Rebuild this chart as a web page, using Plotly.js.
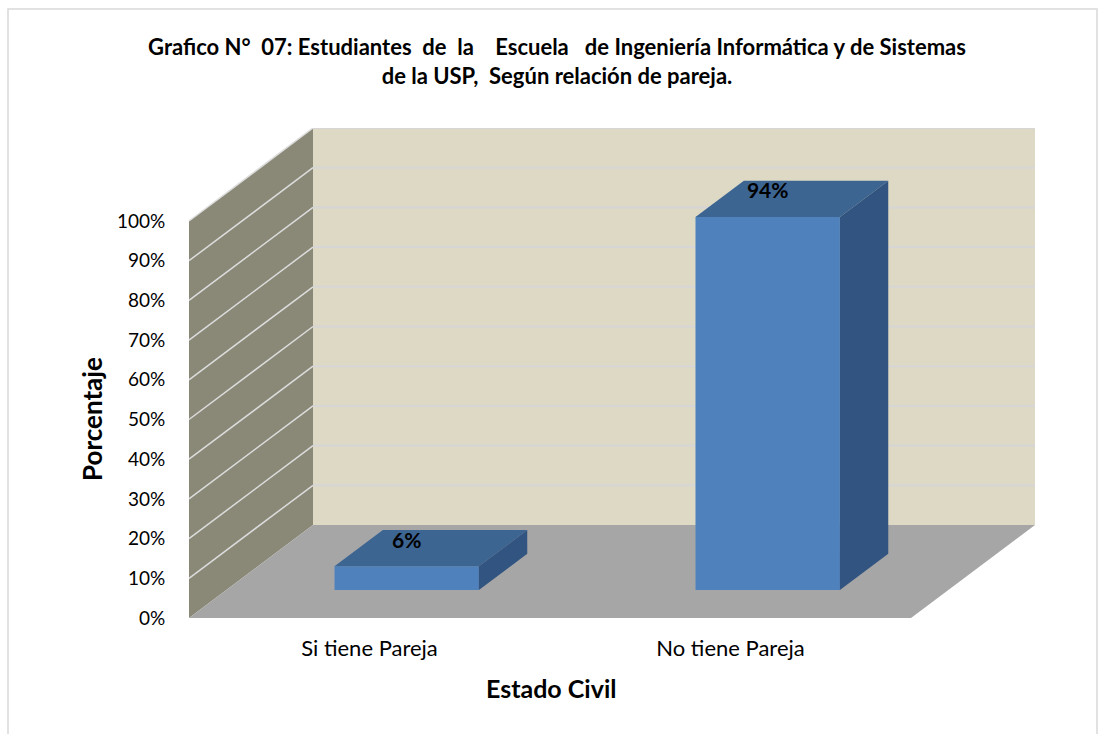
<!DOCTYPE html>
<html>
<head>
<meta charset="utf-8">
<script src="https://cdn.plot.ly/plotly-3.0.1.min.js"></script>
<style>html,body{margin:0;padding:0;background:#fff;}#chart{width:1102px;height:734px;}</style>
</head>
<body>
<div id="chart"></div>
<script>
// ---- data ----
const categories = ['Si tiene Pareja', 'No tiene Pareja'];
const values = [6, 94];
const tickVals = [0, 10, 20, 30, 40, 50, 60, 70, 80, 90, 100];
const tickText = tickVals.map(v => v + '%');
const titleLines = ['Grafico N°\u00a0 07: Estudiantes\u00a0 de\u00a0 la\u00a0\u00a0\u00a0 Escuela\u00a0\u00a0 de Ingeniería Informática y de Sistemas',
                    'de la USP,\u00a0 Según relación de pareja.'];
const xTitle = 'Estado Civil';
const yTitle = 'Porcentaje';

// ---- geometry (styling) ----
const FONT = 'Lato, "Noto Sans", sans-serif';
const L = 189, R = 1035, T = 128, B = 618, W = 1102, H = 734;
const plotW = R - L, plotH = B - T;
const pxPerPct = 3.97;
const depthDX = 124, depthDY = 93;
const frontW = plotW - depthDX;
const catPx = frontW / categories.length;
const barFront = 0.3, barDepth = 0.39;
const offX = barFront * depthDX, offY = barFront * depthDY;
const bdx = barDepth * depthDX / catPx, bdy = barDepth * depthDY / pxPerPct;
const halfW = 0.2;
const backShift = depthDY / pxPerPct;
const sideFrac = depthDX / plotW;

const x2r0 = -(catPx * 0.5 + offX) / catPx;
const traces = [];
// invisible trace to hold front axes
traces.push({x: categories.map((c, i) => i), y: categories.map(() => 0), type: 'scatter', mode: 'markers',
  marker: {opacity: 0}, hoverinfo: 'skip', showlegend: false, xaxis: 'x', yaxis: 'y'});
// front faces
traces.push({x: categories.map((c, i) => i), y: values, type: 'bar', width: 0.4,
  marker: {color: '#4F81BD', line: {width: 0}}, hoverinfo: 'skip', showlegend: false, xaxis: 'x2', yaxis: 'y2'});
values.forEach((v, i) => {
  traces.push({x: [i - halfW, i + halfW, i + halfW + bdx, i - halfW + bdx, i - halfW],
    y: [v, v, v + bdy, v + bdy, v], type: 'scatter', mode: 'lines', fill: 'toself',
    fillcolor: '#3D6592', line: {width: 0, color: '#3D6592'}, hoverinfo: 'skip', showlegend: false, xaxis: 'x2', yaxis: 'y2'});
  traces.push({x: [i + halfW, i + halfW + bdx, i + halfW + bdx, i + halfW, i + halfW],
    y: [0, bdy, v + bdy, v, 0], type: 'scatter', mode: 'lines', fill: 'toself',
    fillcolor: '#325480', line: {width: 0, color: '#325480'}, hoverinfo: 'skip', showlegend: false, xaxis: 'x2', yaxis: 'y2'});
});
// data labels
traces.push({x: categories.map((c, i) => i), y: values.map(v => v + 6), text: values.map(v => v + '%'),
  type: 'scatter', mode: 'text', textposition: 'middle center',
  textfont: {family: FONT, size: 21, color: '#000', weight: 'bold'},
  hoverinfo: 'skip', showlegend: false, xaxis: 'x2', yaxis: 'y2'});

const shapes = [];
// walls and floor
shapes.push({type: 'path', xref: 'paper', yref: 'y', layer: 'below',
  path: `M 0 0 L ${sideFrac} ${backShift} L ${sideFrac} ${100 + backShift} L 0 100 Z`,
  fillcolor: '#8A8978', line: {width: 0}});
shapes.push({type: 'rect', xref: 'paper', yref: 'y', layer: 'below',
  x0: sideFrac, x1: 1, y0: backShift, y1: 100 + backShift, fillcolor: '#DDD9C4', line: {width: 0}});
shapes.push({type: 'path', xref: 'paper', yref: 'y', layer: 'below',
  path: `M 0 0 L ${sideFrac} ${backShift} L 1 ${backShift} L ${1 - sideFrac} 0 Z`,
  fillcolor: '#A6A6A6', line: {width: 0}});
tickVals.filter(v => v > 0).forEach(v => {
  shapes.push({type: 'line', xref: 'paper', yref: 'y', layer: 'below', x0: 0, y0: v, x1: sideFrac, y1: v + backShift,
    line: {color: '#DCDCDC', width: 1.5}});
  shapes.push({type: 'line', xref: 'paper', yref: 'y', layer: 'below', x0: sideFrac, y0: v + backShift, x1: 1, y1: v + backShift,
    line: {color: '#D6D6D6', width: 2}});
});
// chart border
shapes.push({type: 'rect', xref: 'paper', yref: 'paper', layer: 'below',
  x0: (8 - L) / plotW, x1: (1097 - L) / plotW, y0: (B - 740) / plotH, y1: (B - 9) / plotH,
  fillcolor: 'rgba(0,0,0,0)', line: {color: '#D9D9D9', width: 1.5}});

const layout = {
  width: W, height: H,
  margin: {l: L, r: W - R, t: T, b: H - B, pad: 0},
  paper_bgcolor: '#fff', plot_bgcolor: 'rgba(0,0,0,0)',
  showlegend: false, hovermode: false,
  font: {family: FONT, color: '#000'},
  title: {text: titleLines.join('<br>'), x: 557 / W, xanchor: 'center', y: 1 - 55 / H, yref: 'container', yanchor: 'middle',
    font: {family: FONT, size: 22, color: '#000', weight: 'bold'}},
  xaxis: {domain: [0, frontW / plotW], range: [-0.5, categories.length - 0.5], tickmode: 'array',
    tickvals: categories.map((c, i) => i), ticktext: categories, showgrid: false, zeroline: false, showline: false,
    ticks: 'outside', ticklen: 11, tickcolor: 'rgba(0,0,0,0)', tickfont: {family: FONT, size: 22, color: '#000'}, fixedrange: true},
  yaxis: {domain: [0, 1], range: [0, plotH / pxPerPct], tickmode: 'array', tickvals: tickVals, ticktext: tickText,
    showgrid: false, zeroline: false, showline: false, ticks: 'outside', ticklen: 19, tickcolor: 'rgba(0,0,0,0)',
    tickfont: {family: FONT, size: 19, color: '#000'}, fixedrange: true},
  xaxis2: {domain: [0, 1], range: [x2r0, x2r0 + plotW / catPx], visible: false, anchor: 'y2', fixedrange: true},
  yaxis2: {domain: [0, 1], range: [-offY / pxPerPct, (plotH - offY) / pxPerPct], visible: false, anchor: 'x2', fixedrange: true},
  shapes: shapes,
  annotations: [
    {text: yTitle, xref: 'paper', yref: 'paper', x: (92 - L) / plotW, y: (B - 419) / plotH, textangle: -90,
      showarrow: false, xanchor: 'center', yanchor: 'middle', font: {family: FONT, size: 26, color: '#000', weight: 'bold'}},
    {text: xTitle, xref: 'paper', yref: 'paper', x: (551 - L) / plotW, y: (B - 688) / plotH,
      showarrow: false, xanchor: 'center', yanchor: 'middle', font: {family: FONT, size: 25, color: '#000', weight: 'bold'}}
  ]
};

Plotly.newPlot('chart', traces, layout, {displayModeBar: false, staticPlot: true});
</script>
</body>
</html>
